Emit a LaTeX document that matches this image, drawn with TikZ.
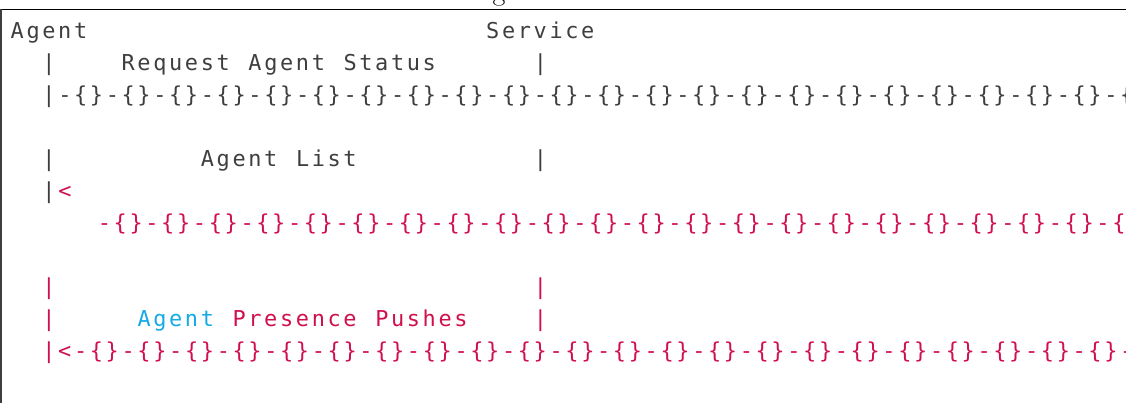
\documentclass[tikz,border=0pt]{standalone}
\usepackage{fontspec}
\usetikzlibrary{positioning}
\newfontfamily\codefont[LetterSpace=12.1]{DejaVu Sans Mono}
\definecolor{CodeGray}{RGB}{62,62,62}
\definecolor{CodeRed}{RGB}{208,16,76}
\definecolor{CodeBlue}{RGB}{20,170,230}

\begin{document}
\begin{tikzpicture}[x=1pt,y=-1pt,
    code/.style={anchor=base west,inner sep=0pt,
      font=\codefont\fontsize{21.9}{32}\selectfont,text=CodeGray},
    hl/.style={code,text=CodeRed},
    kw/.style={code,text=CodeBlue}]
  \useasboundingbox (0,0) rectangle (1126,403);
  % frame and the cut caption above it
  \node[anchor=base,inner sep=0pt,font=\fontsize{28}{30}\selectfont] (cap) at (499,1) {g};
  \draw[line width=1.5pt] (0,9.5) -- (1126,9.5);
  \draw[line width=1.5pt,CodeGray] (1,9.5) -- (1,403);
  % listing: columns of 15.85pt, rows of 31.95pt
  \begin{scope}[shift={(10.5pt,-38.7pt)},x=15.85pt,y=-31.95pt]
    \node[code] (agent) at (0,0) {Agent};
    \node[code] (service) at (30,0) {Service};
    % request
    \node[code] (l1) at (2,1) {|};
    \node[code] (req) at (7,1) {Request};
    \node[code] (req2) at (15,1) {Agent};
    \node[code] (req3) at (21,1) {Status};
    \node[code] (r1) at (33,1) {|};
    \node[code] (l2) at (2,2) {|};
    \foreach \i in {0,...,23}
      \node[code] (a\i) at (3+3*\i,2) {-\{\}};
    % reply
    \node[code] (l4) at (2,4) {|};
    \node[code] (list) at (12,4) {Agent};
    \node[code] (list2) at (18,4) {List};
    \node[code] (r4) at (33,4) {|};
    \node[code] (l5) at (2,5) {|};
    \node[hl] (lt5) at (3,5) {<};
    \foreach \i in {0,...,23}
      \node[hl] (b\i) at (5.5+3*\i,6) {-\{\}};
    % pushes
    \node[hl] (l8) at (2,8) {|};
    \node[hl] (r8) at (33,8) {|};
    \node[hl] (l9) at (2,9) {|};
    \node[kw] (who) at (8,9) {Agent};
    \node[hl] (push) at (14,9) {Presence};
    \node[hl] (push2) at (23,9) {Pushes};
    \node[hl] (r9) at (33,9) {|};
    \node[hl] (l10) at (2,10) {|<};
    \foreach \i in {0,...,23}
      \node[hl] (c\i) at (4+3*\i,10) {-\{\}};
  \end{scope}
\end{tikzpicture}
\end{document}
